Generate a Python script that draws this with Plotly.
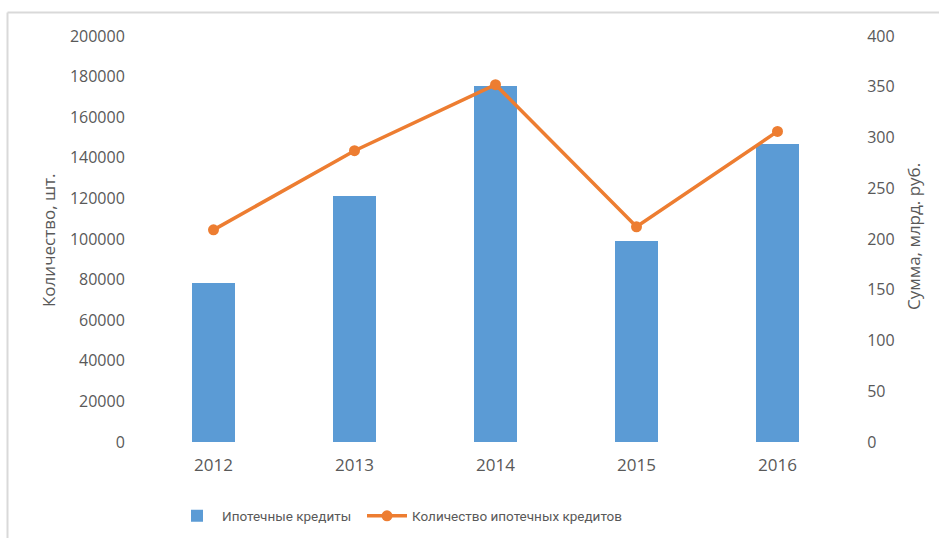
import plotly.graph_objects as go

years = ["2012", "2013", "2014", "2015", "2016"]
credits_count = [78300, 121200, 175400, 99000, 146800]
credits_sum = [209, 287, 352, 212, 306]

W, H = 939, 538
L, R, T, B = 143, 91, 36, 96
pw, ph = W - L - R, H - T - B

def px_x(x):
    return (x - L) / pw

def px_y(y):
    return (H - B - y) / ph

font_family = "Open Sans, Liberation Sans, sans-serif"
grey = "#595959"
legend_font = dict(size=13.5, color=grey, family="Roboto, Open Sans, sans-serif")

fig = go.Figure()
fig.add_trace(go.Bar(
    x=years, y=credits_count, name="Ипотечные кредиты",
    marker=dict(color="#5B9BD5", line=dict(width=0)), width=0.31,
    legend="legend",
))
fig.add_trace(go.Scatter(
    x=years, y=credits_sum, name="Количество ипотечных кредитов",
    yaxis="y2", mode="lines+markers",
    line=dict(color="#ED7D31", width=3.5),
    marker=dict(color="#ED7D31", size=11),
    legend="legend2",
))

fig.update_layout(
    width=W, height=H,
    margin=dict(l=L, r=R, t=T, b=B, autoexpand=False),
    paper_bgcolor="white", plot_bgcolor="white",
    font=dict(family=font_family, color=grey, size=16),
    bargap=0,
    xaxis=dict(showgrid=False, zeroline=False, showline=False,
               tickfont=dict(size=17, color=grey), ticks="outside",
               ticklen=8, tickcolor="rgba(0,0,0,0)"),
    yaxis=dict(range=[0, 200000], dtick=20000, showgrid=False, zeroline=False,
               showline=False, tickfont=dict(size=16, color=grey),
               tickformat="d", ticks="outside", ticklen=14,
               tickcolor="rgba(0,0,0,0)"),
    yaxis2=dict(range=[0, 400], dtick=50, overlaying="y", side="right",
                showgrid=False, zeroline=False, showline=False,
                tickfont=dict(size=16, color=grey), ticks="outside",
                ticklen=15, tickcolor="rgba(0,0,0,0)"),
    legend=dict(orientation="h", x=px_x(172), xanchor="left",
                y=px_y(516), yanchor="middle", font=legend_font,
                itemwidth=40, bgcolor="rgba(0,0,0,0)"),
    legend2=dict(orientation="h", x=px_x(362), xanchor="left",
                 y=px_y(516), yanchor="middle", font=legend_font,
                 itemwidth=40, bgcolor="rgba(0,0,0,0)"),
    showlegend=True,
    annotations=[
        dict(text="Количество, шт.", textangle=-90, xref="paper", yref="paper",
             x=px_x(48), y=px_y(240), showarrow=False,
             font=dict(size=17, color=grey), xanchor="center", yanchor="middle"),
        dict(text="Сумма, млрд. руб.", textangle=-90, xref="paper", yref="paper",
             x=px_x(913), y=px_y(237), showarrow=False,
             font=dict(size=17, color=grey), xanchor="center", yanchor="middle"),
    ],
    shapes=[
        dict(type="line", xref="paper", yref="paper",
             x0=px_x(7.5), x1=px_x(7.5), y0=px_y(12.5), y1=px_y(545),
             line=dict(color="#D9D9D9", width=2)),
        dict(type="line", xref="paper", yref="paper",
             x0=px_x(7.5), x1=px_x(945), y0=px_y(12.5), y1=px_y(12.5),
             line=dict(color="#D9D9D9", width=2)),
    ],
)

fig.write_html("out.html")
